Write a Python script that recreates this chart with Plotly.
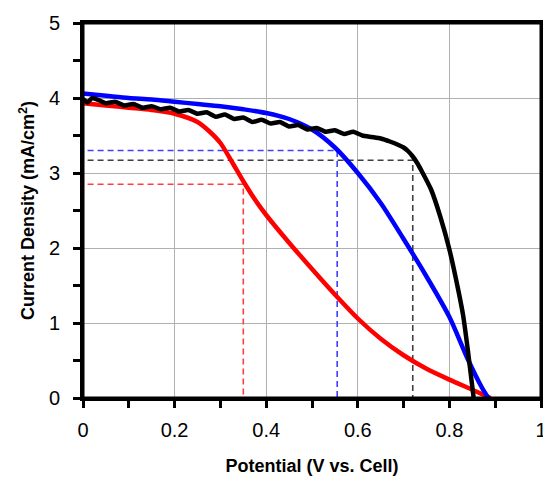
import plotly.graph_objects as go

# Black curve
black_x = [0, 0.01, 0.02, 0.035, 0.05, 0.07, 0.09, 0.11, 0.13, 0.15, 0.17, 0.19, 0.21, 0.23, 0.25, 0.27,
           0.29, 0.31, 0.33, 0.35, 0.37, 0.39, 0.41, 0.43, 0.45, 0.47, 0.49, 0.51, 0.53, 0.55, 0.57,
           0.59, 0.61, 0.63, 0.65, 0.67, 0.69, 0.70, 0.71, 0.72, 0.73, 0.74, 0.76, 0.78, 0.80, 0.82,
           0.83, 0.84, 0.85, 0.853]
black_y = [3.99, 3.94, 4.00, 3.97, 3.93, 3.95, 3.90, 3.92, 3.87, 3.89, 3.85, 3.87, 3.82, 3.84, 3.79, 3.81,
           3.75, 3.78, 3.72, 3.74, 3.68, 3.71, 3.66, 3.68, 3.62, 3.64, 3.58, 3.60, 3.55, 3.57, 3.52,
           3.55, 3.50, 3.48, 3.46, 3.42, 3.37, 3.34, 3.29, 3.22, 3.13, 3.02, 2.78, 2.42, 1.98, 1.42,
           1.10, 0.65, 0.15, 0.0]

# Blue curve
blue_x = [0, 0.05, 0.10, 0.15, 0.20, 0.25, 0.30, 0.35, 0.40, 0.45, 0.50, 0.55, 0.60, 0.65, 0.70,
          0.75, 0.80, 0.84, 0.87, 0.885]
blue_y = [4.06, 4.03, 4.00, 3.98, 3.95, 3.92, 3.89, 3.85, 3.80, 3.72, 3.58, 3.34, 3.00, 2.60, 2.12,
          1.62, 1.08, 0.52, 0.15, 0.0]

# Red curve
red_x = [0, 0.05, 0.10, 0.15, 0.20, 0.25, 0.275, 0.30, 0.325, 0.35, 0.375, 0.40, 0.45, 0.50,
         0.55, 0.60, 0.65, 0.70, 0.75, 0.80, 0.85, 0.89]
red_y = [3.93, 3.90, 3.87, 3.84, 3.79, 3.68, 3.56, 3.40, 3.15, 2.89, 2.65, 2.44, 2.07, 1.72,
         1.38, 1.06, 0.79, 0.57, 0.39, 0.245, 0.11, 0.0]

# Maximum power points (V, J)
mpp_v = [0.72, 0.555, 0.35]
mpp_j = [3.17, 3.30, 2.85]
mpp_colors = ["#404040", "#3f3fff", "#ff3f3f"]

fig = go.Figure()

for v, j, c in zip(mpp_v, mpp_j, mpp_colors):
    fig.add_trace(go.Scatter(x=[0.01, v, v], y=[j, j, 0], mode="lines",
                             line=dict(color=c, width=1.6, dash="6px,4px"), hoverinfo="skip"))

fig.add_trace(go.Scatter(x=red_x, y=red_y, mode="lines", line=dict(color="#ff0000", width=4.5, shape="spline", smoothing=0.8)))
fig.add_trace(go.Scatter(x=blue_x, y=blue_y, mode="lines", line=dict(color="#0000ff", width=4.5, shape="spline", smoothing=0.8)))
fig.add_trace(go.Scatter(x=black_x, y=black_y, mode="lines", line=dict(color="#000000", width=4.5, shape="spline", smoothing=0.5)))

axis_font = dict(family="Liberation Sans, Arial, sans-serif", size=20, color="#000")
title_font = dict(family="Liberation Sans, Arial, sans-serif", size=18, color="#000", weight="bold")

fig.add_shape(type="rect", xref="paper", yref="paper", x0=0, x1=1, y0=0, y1=1,
              line=dict(color="black", width=3), fillcolor="rgba(0,0,0,0)", layer="above")

fig.update_layout(
    width=543, height=480,
    margin=dict(l=83, r=2, t=23, b=82),
    paper_bgcolor="white", plot_bgcolor="white",
    showlegend=False,
    xaxis=dict(range=[0, 1], dtick=0.2, tick0=0, showgrid=True, gridcolor="#b0b0b0", gridwidth=1.2,
               showline=True, linecolor="black", linewidth=3, mirror=True, zeroline=False,
               ticks="outside", ticklen=7, tickwidth=2.5, tickcolor="black", automargin=False,
               minor=dict(dtick=0.1, ticks="outside", ticklen=7, tickwidth=2.5, tickcolor="black", showgrid=False),
               tickfont=axis_font, ticklabelstandoff=5, ticklabeloverflow="allow",
               title=dict(text="Potential (V vs. Cell)", font=title_font, standoff=20)),
    yaxis=dict(range=[0, 5], dtick=1, tick0=0, showgrid=True, gridcolor="#b0b0b0", gridwidth=1.2,
               showline=True, linecolor="black", linewidth=3, mirror=True, zeroline=False,
               ticks="outside", ticklen=7, tickwidth=2.5, tickcolor="black", automargin=False,
               minor=dict(dtick=0.5, ticks="outside", ticklen=7, tickwidth=2.5, tickcolor="black", showgrid=False),
               tickfont=axis_font, ticklabelstandoff=9, ticklabeloverflow="allow",
               title=dict(text="Current Density (mA/cm<sup>2</sup>)", font=title_font, standoff=10)),
)

fig.write_html("out.html", config={"displayModeBar": False},
               post_script="document.body.style.margin='0px';")
